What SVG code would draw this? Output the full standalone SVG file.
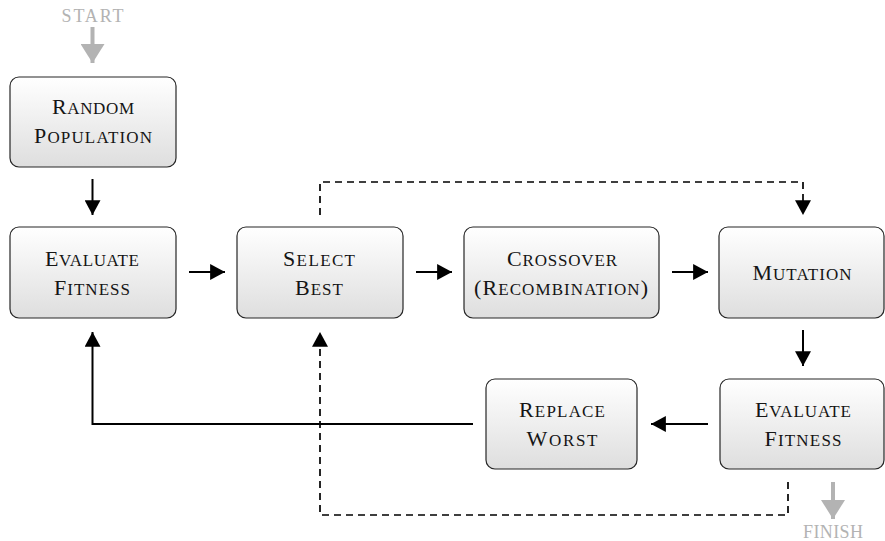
<svg xmlns="http://www.w3.org/2000/svg" width="885" height="541" viewBox="0 0 885 541">
  <defs>
    <linearGradient id="boxFill" x1="0" y1="0" x2="0" y2="1">
      <stop offset="0" stop-color="#ffffff"/>
      <stop offset="1" stop-color="#dedede"/>
    </linearGradient>
    <marker id="head" markerUnits="userSpaceOnUse" markerWidth="16" markerHeight="16" viewBox="0 0 14 14" refX="13" refY="7" orient="auto">
      <path d="M0,0 L13,7 L0,14 Z" fill="#000"/>
    </marker>
    <marker id="headGray" markerUnits="userSpaceOnUse" markerWidth="24" markerHeight="24" viewBox="0 0 20 24" refX="19" refY="12" orient="auto">
      <path d="M0,0 L19,12 L0,24 Z" fill="#b3b3b3"/>
    </marker>
  </defs>
  <style>
    .box { fill: url(#boxFill); stroke: #262626; stroke-width: 1.2; }
    .lbl { font-family: "Liberation Serif", "Times New Roman", serif; font-size: 22px; fill: #151515; text-anchor: middle; }
    .sc { font-size: 17px; }
    .term { font-family: "Liberation Serif", "Times New Roman", serif; font-size: 18px; fill: #b3b3b3; text-anchor: middle; }
    .flow { fill: none; stroke: #000; stroke-width: 2; marker-end: url(#head); }
    .dash { fill: none; stroke: #000; stroke-width: 1.7; stroke-dasharray: 7 5; marker-end: url(#head); }
    .io { fill: none; stroke: #b3b3b3; stroke-width: 4; marker-end: url(#headGray); }
  </style>

  <!-- entry and exit markers -->
  <g id="start">
    <text class="term" x="92.5" y="22" textLength="62" lengthAdjust="spacing">START</text>
    <line class="io" x1="92.5" y1="27" x2="92.5" y2="63"/>
  </g>
  <g id="finish">
    <line class="io" x1="833" y1="482" x2="833" y2="519"/>
    <text class="term" x="833" y="538" textLength="60" lengthAdjust="spacing">FINISH</text>
  </g>

  <!-- process steps -->
  <g id="random-population">
    <rect class="box" x="10" y="77" width="166" height="90" rx="9"/>
    <text class="lbl" x="93" y="114" textLength="82" lengthAdjust="spacing">R<tspan class="sc">ANDOM</tspan></text>
    <text class="lbl" x="93" y="143" textLength="118" lengthAdjust="spacing">P<tspan class="sc">OPULATION</tspan></text>
  </g>
  <g id="evaluate-fitness-1">
    <rect class="box" x="10" y="227" width="166" height="91" rx="9"/>
    <text class="lbl" x="92" y="266" textLength="94" lengthAdjust="spacing">E<tspan class="sc">VALUATE</tspan></text>
    <text class="lbl" x="92" y="295" textLength="76" lengthAdjust="spacing">F<tspan class="sc">ITNESS</tspan></text>
  </g>
  <g id="select-best">
    <rect class="box" x="237" y="227" width="166" height="91" rx="9"/>
    <text class="lbl" x="319" y="266" textLength="72" lengthAdjust="spacing">S<tspan class="sc">ELECT</tspan></text>
    <text class="lbl" x="319" y="295" textLength="48" lengthAdjust="spacing">B<tspan class="sc">EST</tspan></text>
  </g>
  <g id="crossover">
    <rect class="box" x="464" y="227" width="195" height="91" rx="9"/>
    <text class="lbl" x="562" y="266" textLength="110" lengthAdjust="spacing">C<tspan class="sc">ROSSOVER</tspan></text>
    <text class="lbl" x="561" y="295" textLength="174" lengthAdjust="spacing">(R<tspan class="sc">ECOMBINATION</tspan>)</text>
  </g>
  <g id="mutation">
    <rect class="box" x="719" y="227" width="165" height="91" rx="9"/>
    <text class="lbl" x="802" y="280" textLength="99" lengthAdjust="spacing">M<tspan class="sc">UTATION</tspan></text>
  </g>
  <g id="evaluate-fitness-2">
    <rect class="box" x="720" y="379" width="164" height="90" rx="9"/>
    <text class="lbl" x="803" y="417" textLength="96" lengthAdjust="spacing">E<tspan class="sc">VALUATE</tspan></text>
    <text class="lbl" x="803" y="446" textLength="77" lengthAdjust="spacing">F<tspan class="sc">ITNESS</tspan></text>
  </g>
  <g id="replace-worst">
    <rect class="box" x="486" y="379" width="151" height="90" rx="9"/>
    <text class="lbl" x="562" y="417" textLength="86" lengthAdjust="spacing">R<tspan class="sc">EPLACE</tspan></text>
    <text class="lbl" x="562" y="446" textLength="71" lengthAdjust="spacing">W<tspan class="sc">ORST</tspan></text>
  </g>

  <!-- connectors -->
  <g id="connectors">
    <line class="flow" x1="92.5" y1="179" x2="92.5" y2="215"/>
    <line class="flow" x1="189" y1="272" x2="225" y2="272"/>
    <line class="flow" x1="416" y1="272" x2="452" y2="272"/>
    <line class="flow" x1="672" y1="272" x2="708" y2="272"/>
    <line class="flow" x1="803" y1="330" x2="803" y2="366"/>
    <line class="flow" x1="708" y1="424" x2="651" y2="424"/>
    <path class="flow" d="M473,424 H92.5 V332"/>
    <path class="dash" d="M320,215 V182 H803 V215"/>
    <path class="dash" d="M788,482 V515 H320 V332"/>
  </g>
</svg>
